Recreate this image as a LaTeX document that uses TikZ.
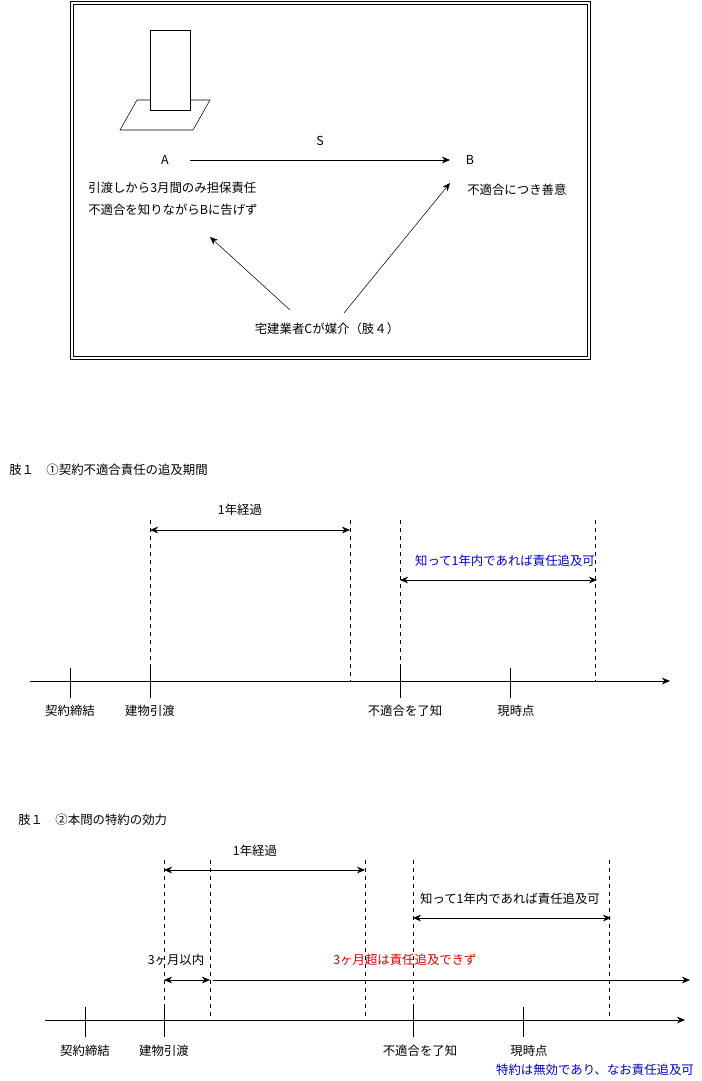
\documentclass[tikz,border=0pt]{standalone}
\usepackage{fontspec}
\setmainfont{Noto Sans CJK JP}
\usetikzlibrary{arrows.meta}
\tikzset{
  lbl/.style={inner sep=0pt,font=\fontsize{9.3}{11}\selectfont},
  arr/.style={-{Stealth[length=6pt,width=5pt]},thin},
  darr/.style={{Stealth[length=6pt,width=5pt]}-{Stealth[length=6pt,width=5pt]},thin},
  guide/.style={dashed,thin},
  tick/.style={thin}
}
\begin{document}
\begin{tikzpicture}[x=0.75pt,y=-0.75pt]
\useasboundingbox (0,0) rectangle (701,1081);
%frame
\draw[thin] (70,1) rectangle (590,359);
\draw[thin] (73,4) rectangle (587,356);
%building
\draw[thin] (137,100) -- (210,100) -- (193,130) -- (120,130) -- cycle;
\draw[thin,fill=white] (150,30) rectangle (190,110);
%parties
\node[lbl] (a) at (165,160) {A};
\node[lbl] (b) at (470,160) {B};
\node[lbl] (s) at (320,141) {S};
\coordinate (aend) at (190,160);
\coordinate (bend) at (450,160);
\draw[arr] (aend) -- (bend);
\node[lbl,anchor=west] (atxt1) at (88,188) {引渡しから3月間のみ担保責任};
\node[lbl,anchor=west] (atxt2) at (88,210) {不適合を知りながらBに告げず};
\node[lbl,anchor=west] (btxt) at (467,190) {不適合につき善意};
\node[lbl] (c) at (327,329) {宅建業者Cが媒介（肢４）};
\coordinate (c1) at (290,310);
\coordinate (c2) at (344,313);
\coordinate (ca) at (210,237);
\coordinate (cb) at (450,183);
\draw[arr] (c1) -- (ca);
\draw[arr] (c2) -- (cb);

%section 1
\node[lbl,anchor=west] (t1) at (9,470) {肢１　①契約不適合責任の追及期間};
\coordinate (ax1s) at (30,681);
\coordinate (ax1e) at (670,681);
\draw[arr] (ax1s) -- (ax1e);
\draw[tick] (70,668) -- (70,698);
\draw[tick] (150,668) -- (150,698);
\draw[tick] (400,668) -- (400,698);
\draw[tick] (510,668) -- (510,698);
\draw[guide] (150,520) -- (150,668);
\draw[guide] (350,520) -- (350,681);
\draw[guide] (400,520) -- (400,668);
\draw[guide] (595,520) -- (595,681);
\draw[darr] (150,530) -- (350,530);
\node[lbl] (y1) at (240,510) {1年経過};
\draw[darr] (400,580) -- (597,580);
\node[lbl,text=blue!80!black] (k1) at (505,561) {知って1年内であれば責任追及可};
\node[lbl] (p1) at (70,711) {契約締結};
\node[lbl] (p2) at (150,711) {建物引渡};
\node[lbl] (p3) at (405,711) {不適合を了知};
\node[lbl] (p4) at (516,711) {現時点};

%section 2
\node[lbl,anchor=west] (t2) at (18,820) {肢１　②本問の特約の効力};
\coordinate (ax2s) at (45,1020);
\coordinate (ax2e) at (685,1020);
\draw[arr] (ax2s) -- (ax2e);
\draw[tick] (85,1007) -- (85,1037);
\draw[tick] (164,1007) -- (164,1037);
\draw[tick] (413,1007) -- (413,1037);
\draw[tick] (523,1007) -- (523,1037);
\draw[guide] (164,860) -- (164,1007);
\draw[guide] (210,860) -- (210,1020);
\draw[guide] (365,860) -- (365,1020);
\draw[guide] (413,860) -- (413,1007);
\draw[guide] (609,860) -- (609,1020);
\draw[darr] (164,870) -- (365,870);
\node[lbl] (y2) at (255,851) {1年経過};
\draw[darr] (413,918) -- (611,918);
\node[lbl] (k2) at (510,899) {知って1年内であれば責任追及可};
\draw[darr] (164,980) -- (210,980);
\node[lbl] (m3) at (176,960) {3ヶ月以内};
\draw[arr] (213,980) -- (690,980);
\node[lbl,text=red!85!black] (m3x) at (405,960) {3ヶ月超は責任追及できず};
\node[lbl] (q1) at (85,1051) {契約締結};
\node[lbl] (q2) at (164,1051) {建物引渡};
\node[lbl] (q3) at (420,1051) {不適合を了知};
\node[lbl] (q4) at (529,1051) {現時点};
\node[lbl,text=blue!80!black] (inv) at (595,1070) {特約は無効であり、なお責任追及可};
\end{tikzpicture}
\end{document}
